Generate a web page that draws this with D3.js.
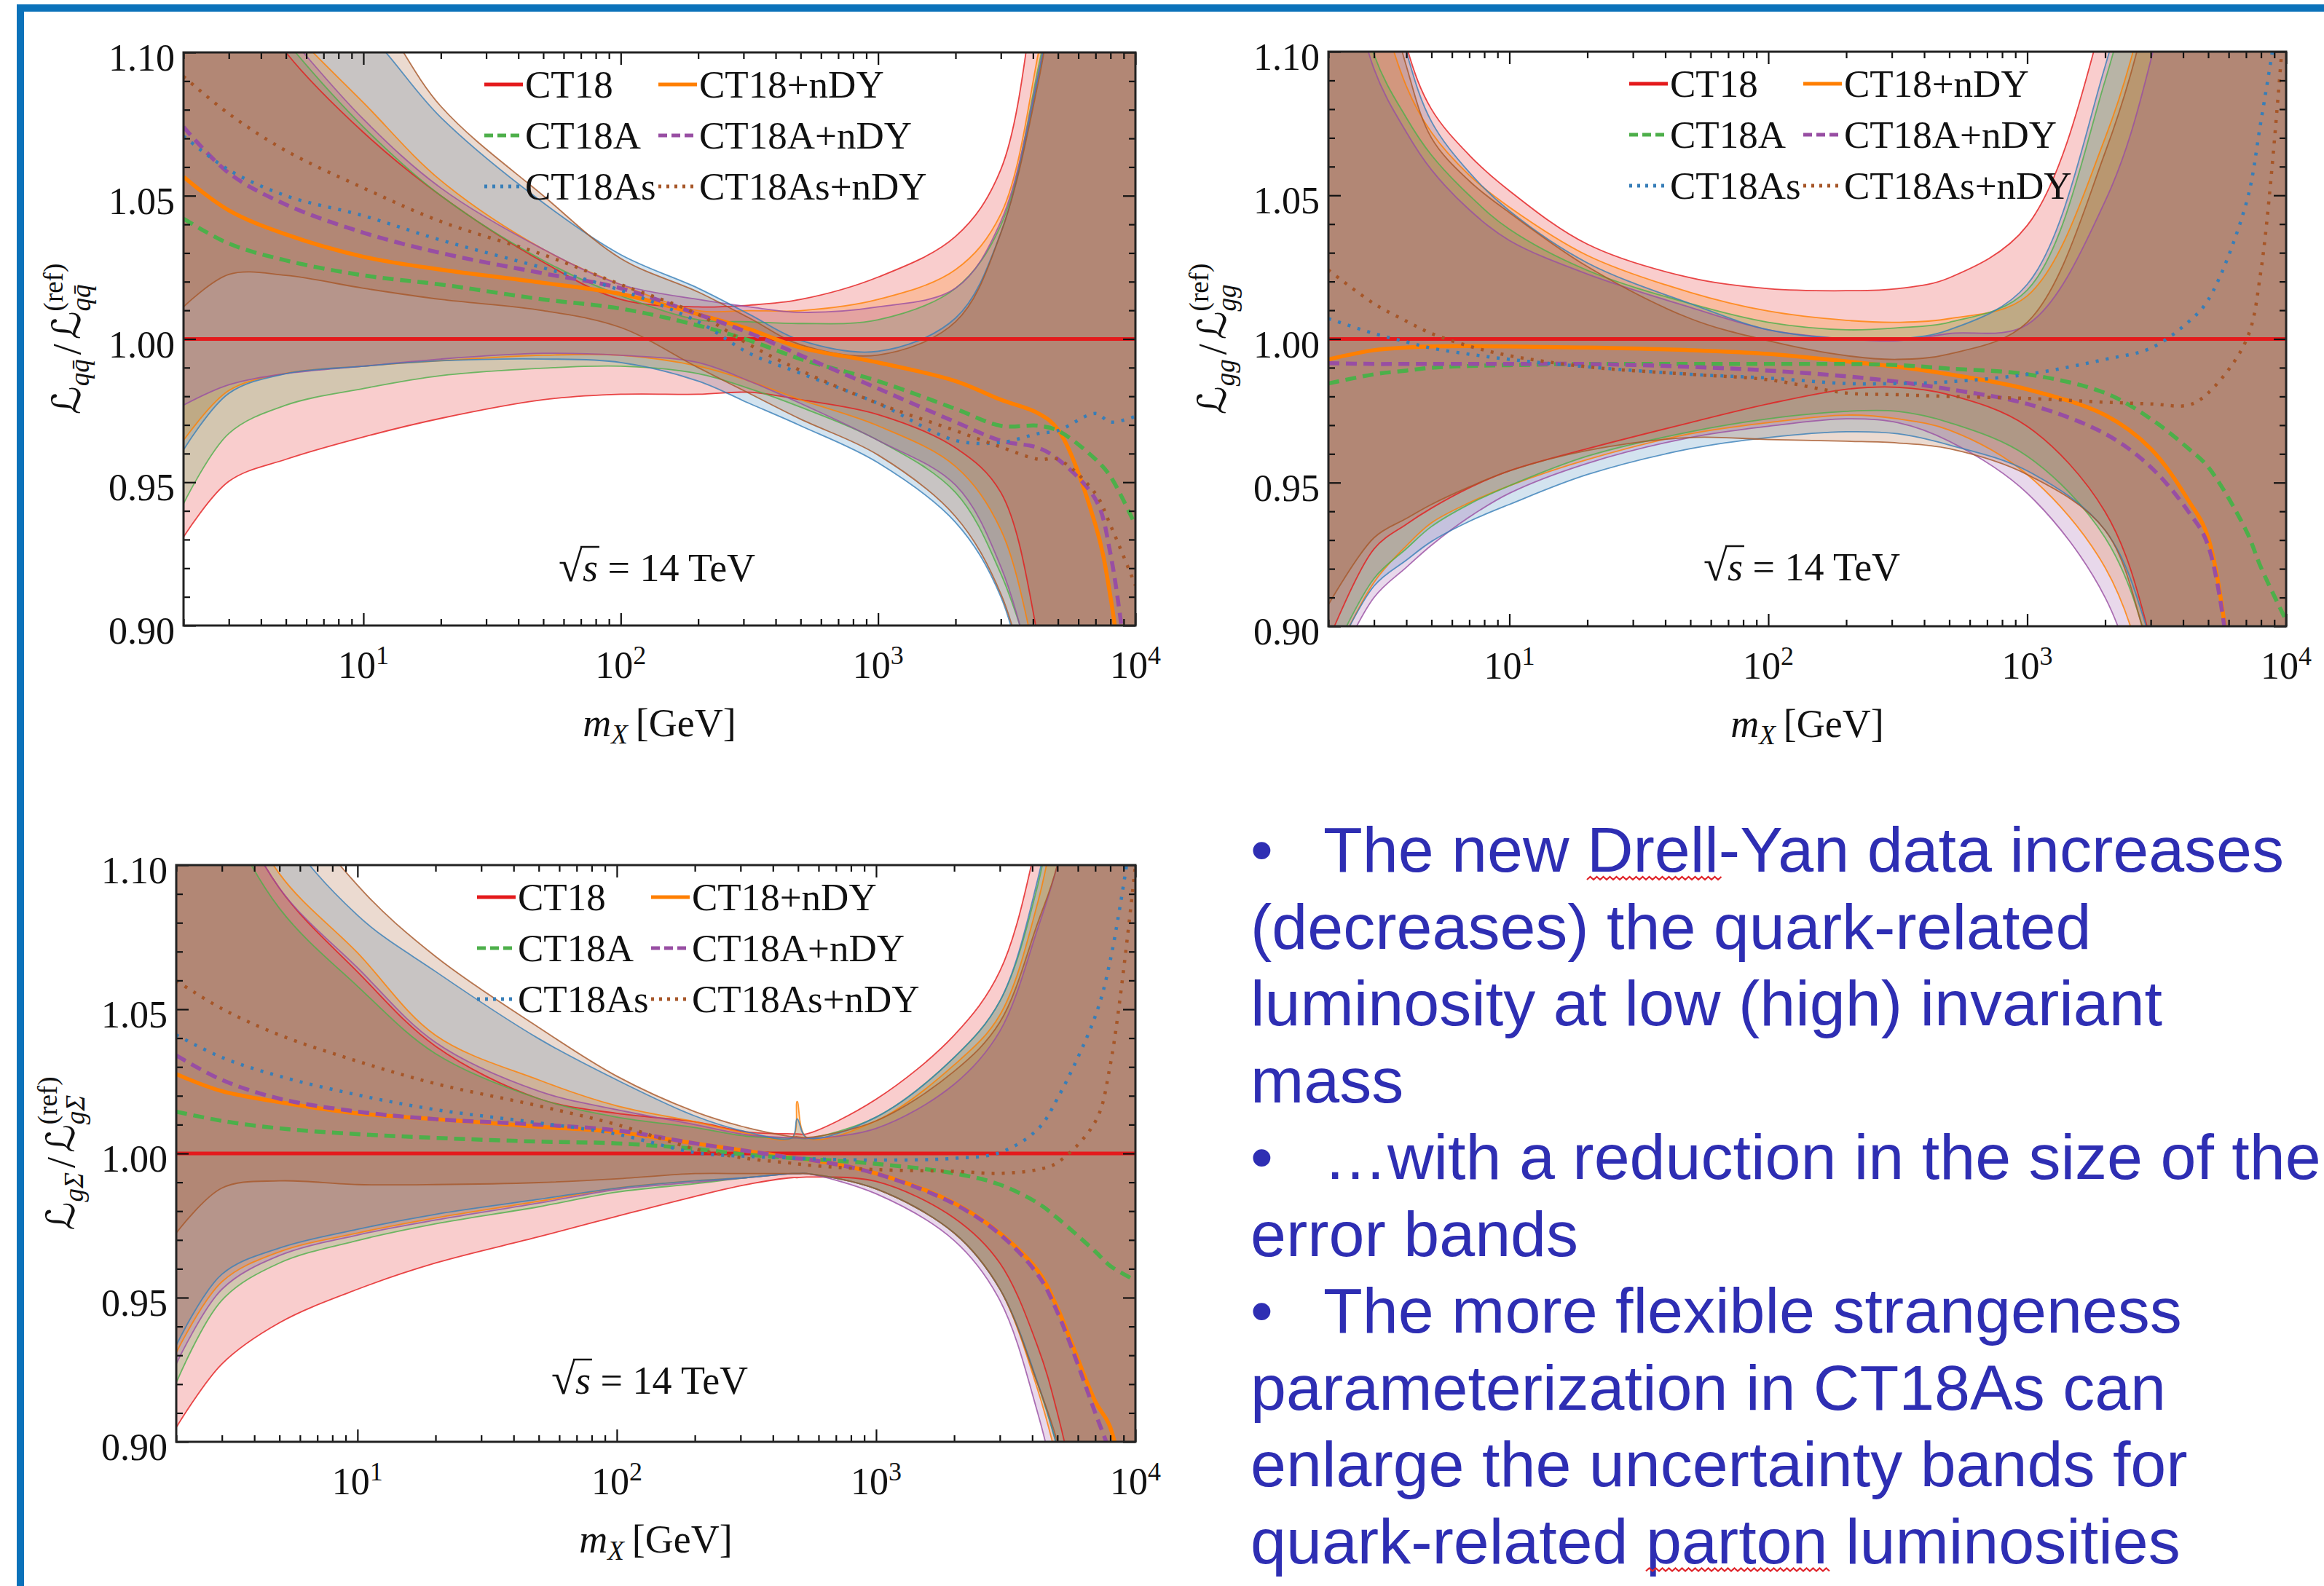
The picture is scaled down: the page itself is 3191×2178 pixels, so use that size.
<!DOCTYPE html>
<html lang="en">
<head>
<meta charset="utf-8">
<title>Parton luminosity ratios at 14 TeV</title>
<script src="https://cdn.jsdelivr.net/npm/d3@7/dist/d3.min.js"></script>
<style>
  html, body { margin: 0; padding: 0; background: #ffffff; }
  svg { display: block; }
</style>
</head>
<body>
<svg id="slide" width="3191" height="2178" viewBox="0 0 3191 2178"></svg>
<script>
// ---------------------------------------------------------------
// PDF sets shown in every panel
// ---------------------------------------------------------------
const pdfSets   = ["CT18", "CT18+nDY", "CT18A", "CT18A+nDY", "CT18As", "CT18As+nDY"];
const setColors = ["#e41a1c", "#ff7f00", "#4daf4a", "#984ea3", "#377eb8", "#a65628"];

// axis ticks
const massMajor  = [10, 100, 1000, 10000];
const massMinor  = [2, 3, 4, 5, 6, 7, 8, 9, 20, 30, 40, 50, 60, 70, 80, 90,
                    200, 300, 400, 500, 600, 700, 800, 900, 2000, 3000, 4000, 5000, 6000, 7000, 8000, 9000];
const ratioMajor = [0.90, 0.95, 1.00, 1.05, 1.10];
const ratioMinor = [0.91, 0.92, 0.93, 0.94, 0.96, 0.97, 0.98, 0.99, 1.01, 1.02, 1.03, 1.04, 1.06, 1.07, 1.08, 1.09];

// ---------------------------------------------------------------
// q-qbar luminosity ratio (rows follow pdfSets)
// ---------------------------------------------------------------
const qqMass = [2, 3, 5, 10, 20, 50, 100, 200, 316, 500, 1000, 2000, 3000, 4200, 5000, 7000, 8000, 10000];
const qqCentral = [
  [1, 1, 1, 1, 1, 1, 1, 1, 1, 1, 1, 1, 1, 1, 1, 1, 1, 1],
  [1.0566, 1.0449, 1.0365, 1.0287, 1.0242, 1.0196, 1.0157, 1.0086, 1.0034, 0.9970, 0.9918, 0.9853, 0.9788, 0.9740, 0.9684, 0.9350, 0.9100, 0.8400],
  [1.0420, 1.0333, 1.0274, 1.0222, 1.0190, 1.0138, 1.0106, 1.0047, 0.9995, 0.9930, 0.9853, 0.9756, 0.9697, 0.9697, 0.9680, 0.9580, 0.9520, 0.9350],
  [1.0740, 1.0579, 1.0469, 1.0371, 1.0300, 1.0229, 1.0177, 1.0086, 1.0021, 0.9943, 0.9827, 0.9710, 0.9645, 0.9620, 0.9580, 0.9440, 0.9250, 0.8600],
  [1.0708, 1.0590, 1.0500, 1.0430, 1.0345, 1.0248, 1.0170, 1.0060, 0.9950, 0.9880, 0.9775, 0.9646, 0.9639, 0.9670, 0.9680, 0.9740, 0.9710, 0.9730],
  [1.0916, 1.0786, 1.0657, 1.0527, 1.0410, 1.0294, 1.0190, 1.0086, 0.9980, 0.9890, 0.9775, 0.9680, 0.9623, 0.9580, 0.9580, 0.9460, 0.9350, 0.9140]
];
const qqUpper = [
  [1.1600, 1.1300, 1.1000, 1.0721, 1.0500, 1.0268, 1.0138, 1.0112, 1.0118, 1.0138, 1.0216, 1.0358, 1.0592, 1.1300, 1.1700, 1.2500, 1.3000, 1.4000],
  [1.1600, 1.1350, 1.1100, 1.0825, 1.0553, 1.0313, 1.0190, 1.0099, 1.0099, 1.0099, 1.0138, 1.0242, 1.0436, 1.1000, 1.1400, 1.2200, 1.2700, 1.3500],
  [1.1600, 1.1300, 1.1040, 1.0740, 1.0500, 1.0274, 1.0151, 1.0067, 1.0060, 1.0054, 1.0067, 1.0177, 1.0397, 1.0950, 1.1300, 1.2000, 1.2500, 1.3300],
  [1.1600, 1.1300, 1.1070, 1.0767, 1.0527, 1.0313, 1.0190, 1.0138, 1.0112, 1.0093, 1.0112, 1.0177, 1.0410, 1.0930, 1.1300, 1.2000, 1.2500, 1.3300],
  [1.2000, 1.1600, 1.1250, 1.1080, 1.0773, 1.0475, 1.0294, 1.0177, 1.0086, 0.9995, 0.9957, 1.0073, 1.0371, 1.0920, 1.1300, 1.2000, 1.2500, 1.3300],
  [1.2200, 1.1800, 1.1400, 1.1200, 1.0812, 1.0500, 1.0281, 1.0164, 1.0073, 0.9980, 0.9944, 1.0060, 1.0370, 1.0900, 1.1300, 1.2000, 1.2500, 1.3300]
];
const qqLower = [
  [0.9309, 0.9503, 0.9580, 0.9658, 0.9723, 0.9788, 0.9807, 0.9807, 0.9814, 0.9788, 0.9736, 0.9620, 0.9464, 0.8950, 0.8500, 0.7800, 0.7500, 0.7000],
  [0.9646, 0.9820, 0.9880, 0.9905, 0.9924, 0.9943, 0.9943, 0.9905, 0.9853, 0.9788, 0.9697, 0.9555, 0.9334, 0.8850, 0.8600, 0.8000, 0.7700, 0.7300],
  [0.9425, 0.9670, 0.9769, 0.9827, 0.9872, 0.9898, 0.9905, 0.9879, 0.9827, 0.9762, 0.9646, 0.9464, 0.9180, 0.8800, 0.8600, 0.8000, 0.7700, 0.7300],
  [0.9769, 0.9840, 0.9879, 0.9905, 0.9930, 0.9950, 0.9943, 0.9918, 0.9853, 0.9775, 0.9646, 0.9490, 0.9205, 0.8750, 0.8500, 0.8000, 0.7700, 0.7300],
  [0.9613, 0.9810, 0.9879, 0.9905, 0.9924, 0.9930, 0.9918, 0.9853, 0.9775, 0.9697, 0.9568, 0.9360, 0.9100, 0.8600, 0.8400, 0.7800, 0.7600, 0.7200],
  [1.0112, 1.0225, 1.0222, 1.0177, 1.0138, 1.0099, 1.0040, 0.9900, 0.9810, 0.9720, 0.9595, 0.9380, 0.9110, 0.8650, 0.8450, 0.7900, 0.7700, 0.7300]
];

// ---------------------------------------------------------------
// g-g luminosity ratio
// ---------------------------------------------------------------
const ggMass = [2, 3, 4, 5, 7, 10, 20, 50, 100, 200, 316, 500, 1000, 2000, 3000, 4200, 5000, 7000, 8000, 10000];
const ggCentral = [
  [1, 1, 1, 1, 1, 1, 1, 1, 1, 1, 1, 1, 1, 1, 1, 1, 1, 1, 1, 1],
  [0.9929, 0.9961, 0.9970, 0.9974, 0.9975, 0.9974, 0.9970, 0.9961, 0.9948, 0.9922, 0.9903, 0.9877, 0.9825, 0.9735, 0.9618, 0.9437, 0.9308, 0.8400, 0.8000, 0.7500],
  [0.9845, 0.9877, 0.9890, 0.9900, 0.9906, 0.9909, 0.9913, 0.9913, 0.9913, 0.9913, 0.9909, 0.9897, 0.9877, 0.9812, 0.9722, 0.9618, 0.9554, 0.9334, 0.9204, 0.9020],
  [0.9916, 0.9913, 0.9913, 0.9913, 0.9913, 0.9913, 0.9913, 0.9903, 0.9890, 0.9870, 0.9851, 0.9825, 0.9774, 0.9670, 0.9554, 0.9398, 0.9280, 0.8400, 0.8000, 0.7500],
  [1.0071, 1.0019, 0.9990, 0.9968, 0.9947, 0.9929, 0.9903, 0.9877, 0.9864, 0.9845, 0.9845, 0.9851, 0.9877, 0.9929, 0.9968, 1.0060, 1.0136, 1.0470, 1.0760, 1.1300],
  [1.0240, 1.0123, 1.0062, 1.0019, 0.9975, 0.9942, 0.9903, 0.9877, 0.9858, 0.9812, 0.9806, 0.9800, 0.9793, 0.9780, 0.9774, 0.9770, 0.9812, 0.9994, 1.0240, 1.1200]
];
const ggUpper = [
  [1.2800, 1.1600, 1.1020, 1.0800, 1.0640, 1.0516, 1.0330, 1.0213, 1.0175, 1.0168, 1.0175, 1.0213, 1.0395, 1.1150, 1.2000, 1.2800, 1.3200, 1.4000, 1.4500, 1.5000],
  [1.2000, 1.1250, 1.0880, 1.0719, 1.0570, 1.0459, 1.0291, 1.0162, 1.0097, 1.0065, 1.0058, 1.0071, 1.0150, 1.0700, 1.1250, 1.2000, 1.2500, 1.3500, 1.4000, 1.4500],
  [1.1700, 1.0990, 1.0770, 1.0640, 1.0500, 1.0382, 1.0239, 1.0123, 1.0058, 1.0032, 1.0039, 1.0058, 1.0170, 1.0900, 1.1550, 1.2200, 1.2700, 1.3500, 1.4000, 1.4500],
  [1.1600, 1.0940, 1.0720, 1.0589, 1.0450, 1.0343, 1.0226, 1.0110, 1.0032, 1.0000, 0.9994, 1.0019, 1.0050, 1.0480, 1.0970, 1.1700, 1.2200, 1.3000, 1.3500, 1.4000],
  [1.2400, 1.1500, 1.1000, 1.0757, 1.0580, 1.0446, 1.0265, 1.0123, 1.0032, 1.0000, 1.0000, 1.0032, 1.0190, 1.0950, 1.1600, 1.2200, 1.2700, 1.3500, 1.4000, 1.4500],
  [1.2200, 1.1400, 1.0950, 1.0700, 1.0550, 1.0440, 1.0252, 1.0071, 0.9994, 0.9942, 0.9929, 0.9948, 1.0058, 1.0650, 1.1200, 1.2000, 1.2500, 1.3300, 1.3800, 1.4300]
];
const ggLower = [
  [0.8950, 0.9269, 0.9355, 0.9411, 0.9482, 0.9541, 0.9618, 0.9709, 0.9774, 0.9825, 0.9832, 0.9806, 0.9696, 0.9398, 0.8950, 0.8200, 0.7800, 0.7000, 0.6600, 0.6000],
  [0.8850, 0.9153, 0.9280, 0.9360, 0.9430, 0.9489, 0.9580, 0.9670, 0.9709, 0.9735, 0.9722, 0.9683, 0.9528, 0.9204, 0.8750, 0.8000, 0.7700, 0.7000, 0.6700, 0.6000],
  [0.8870, 0.9166, 0.9270, 0.9347, 0.9425, 0.9489, 0.9592, 0.9677, 0.9722, 0.9748, 0.9748, 0.9709, 0.9592, 0.9308, 0.8900, 0.8200, 0.7900, 0.7200, 0.6900, 0.6200],
  [0.8800, 0.9100, 0.9205, 0.9282, 0.9380, 0.9463, 0.9567, 0.9657, 0.9696, 0.9722, 0.9709, 0.9644, 0.9463, 0.9100, 0.8600, 0.8000, 0.7700, 0.7000, 0.6700, 0.6000],
  [0.8850, 0.9140, 0.9230, 0.9295, 0.9365, 0.9424, 0.9528, 0.9618, 0.9657, 0.9677, 0.9670, 0.9631, 0.9541, 0.9334, 0.8950, 0.8400, 0.8100, 0.7400, 0.7100, 0.6500],
  [0.9075, 0.9308, 0.9375, 0.9424, 0.9485, 0.9541, 0.9612, 0.9657, 0.9650, 0.9644, 0.9638, 0.9618, 0.9528, 0.9334, 0.8900, 0.8500, 0.8200, 0.7500, 0.7200, 0.6600]
];

// ---------------------------------------------------------------
// g-Sigma luminosity ratio
// ---------------------------------------------------------------
const gsMass = [2, 3, 5, 10, 20, 50, 100, 200, 316, 475, 496, 540, 1000, 2000, 3000, 4200, 5000, 7000, 8000, 10000];
const gsCentral = [
  [1, 1, 1, 1, 1, 1, 1, 1, 1, 1, 1, 1, 1, 1, 1, 1, 1, 1, 1, 1],
  [1.0275, 1.0216, 1.0178, 1.0139, 1.0119, 1.0093, 1.0074, 1.0035, 1.0009, 0.9985, 0.9983, 0.9980, 0.9931, 0.9828, 0.9724, 0.9594, 0.9465, 0.9140, 0.9050, 0.8600],
  [1.0145, 1.0113, 1.0087, 1.0067, 1.0054, 1.0041, 1.0035, 1.0016, 0.9996, 0.9984, 0.9983, 0.9981, 0.9964, 0.9931, 0.9892, 0.9828, 0.9776, 0.9660, 0.9610, 0.9560],
  [1.0340, 1.0255, 1.0190, 1.0145, 1.0119, 1.0100, 1.0080, 1.0035, 1.0009, 0.9985, 0.9983, 0.9980, 0.9930, 0.9825, 0.9720, 0.9580, 0.9450, 0.9100, 0.8950, 0.8400],
  [1.0411, 1.0333, 1.0268, 1.0203, 1.0152, 1.0106, 1.0067, 1.0003, 0.9990, 0.9984, 0.9983, 0.9982, 0.9977, 0.9983, 1.0003, 1.0084, 1.0190, 1.0476, 1.0670, 1.1200],
  [1.0599, 1.0502, 1.0411, 1.0320, 1.0242, 1.0165, 1.0100, 1.0016, 0.9983, 0.9966, 0.9964, 0.9960, 0.9944, 0.9938, 0.9931, 0.9944, 0.9968, 1.0110, 1.0307, 1.1000]
];
const gsUpper = [
  [1.1800, 1.1300, 1.0920, 1.0630, 1.0372, 1.0190, 1.0139, 1.0110, 1.0075, 1.0068, 1.0068, 1.0068, 1.0188, 1.0410, 1.0632, 1.1100, 1.1500, 1.2500, 1.3000, 1.4000],
  [1.1800, 1.1350, 1.0970, 1.0696, 1.0410, 1.0255, 1.0165, 1.0110, 1.0070, 1.0055, 1.0180, 1.0055, 1.0113, 1.0307, 1.0480, 1.0870, 1.1200, 1.2000, 1.2500, 1.3300],
  [1.1600, 1.1200, 1.0850, 1.0580, 1.0346, 1.0190, 1.0126, 1.0090, 1.0060, 1.0054, 1.0054, 1.0052, 1.0126, 1.0333, 1.0528, 1.0930, 1.1300, 1.2000, 1.2500, 1.3300],
  [1.1700, 1.1300, 1.0920, 1.0644, 1.0385, 1.0216, 1.0152, 1.0100, 1.0065, 1.0054, 1.0054, 1.0052, 1.0087, 1.0240, 1.0424, 1.0780, 1.1000, 1.1600, 1.2000, 1.2800],
  [1.2200, 1.1700, 1.1150, 1.0826, 1.0631, 1.0398, 1.0255, 1.0130, 1.0075, 1.0055, 1.0120, 1.0055, 1.0126, 1.0333, 1.0528, 1.0950, 1.1300, 1.2000, 1.2500, 1.3300],
  [1.2500, 1.1900, 1.1300, 1.0930, 1.0683, 1.0437, 1.0268, 1.0145, 1.0090, 1.0058, 1.0058, 1.0055, 1.0113, 1.0285, 1.0455, 1.0800, 1.1000, 1.1700, 1.2200, 1.3000]
];
const gsLower = [
  [0.9050, 0.9270, 0.9413, 0.9529, 0.9620, 0.9711, 0.9782, 0.9851, 0.9892, 0.9916, 0.9916, 0.9918, 0.9903, 0.9776, 0.9620, 0.9330, 0.9100, 0.8500, 0.8200, 0.7700],
  [0.9309, 0.9555, 0.9659, 0.9724, 0.9776, 0.9834, 0.9880, 0.9905, 0.9916, 0.9930, 0.9930, 0.9930, 0.9877, 0.9724, 0.9530, 0.9180, 0.8930, 0.8300, 0.7900, 0.7400],
  [0.9205, 0.9491, 0.9620, 0.9698, 0.9756, 0.9815, 0.9866, 0.9895, 0.9916, 0.9930, 0.9930, 0.9930, 0.9877, 0.9724, 0.9530, 0.9200, 0.8980, 0.8400, 0.8000, 0.7500],
  [0.9270, 0.9529, 0.9646, 0.9717, 0.9769, 0.9828, 0.9875, 0.9900, 0.9916, 0.9930, 0.9930, 0.9930, 0.9860, 0.9698, 0.9491, 0.9100, 0.8820, 0.8200, 0.7800, 0.7300],
  [0.9335, 0.9581, 0.9672, 0.9737, 0.9789, 0.9841, 0.9880, 0.9905, 0.9916, 0.9930, 0.9930, 0.9930, 0.9877, 0.9724, 0.9530, 0.9205, 0.8980, 0.8400, 0.8000, 0.7500],
  [0.9724, 0.9880, 0.9905, 0.9892, 0.9892, 0.9899, 0.9912, 0.9930, 0.9930, 0.9930, 0.9930, 0.9930, 0.9877, 0.9724, 0.9530, 0.9200, 0.9000, 0.8400, 0.8000, 0.7500]
];

// ---------------------------------------------------------------
// Slide notes
// ---------------------------------------------------------------
const noteLines = [
  { bullet: true,  text: "The new Drell-Yan data increases" },
  { bullet: false, text: "(decreases) the quark-related" },
  { bullet: false, text: "luminosity at low (high) invariant" },
  { bullet: false, text: "mass" },
  { bullet: true,  text: "\u2026with a reduction in the size of the" },
  { bullet: false, text: "error bands" },
  { bullet: true,  text: "The more flexible strangeness" },
  { bullet: false, text: "parameterization in CT18As can" },
  { bullet: false, text: "enlarge the uncertainty bands for" },
  { bullet: false, text: "quark-related parton luminosities" }
];
const spellFlags = [ { line: 0, word: "Drell" }, { line: 9, word: "parton" } ];

// ---------------------------------------------------------------
// Styling and layout
// ---------------------------------------------------------------
const serif = "'Liberation Serif', 'Times New Roman', serif";
const sans  = "'Liberation Sans', Arial, Helvetica, sans-serif";
const scriptFont = "'DejaVu Serif', 'DejaVu Sans', serif";
const centralWidth = [5, 5.5, 5.5, 5.5, 4.5, 4.5];
const centralDash  = [null, null, "15,9", "15,9", "4,10", "4,10"];
const legendDash   = [null, null, "12,6", "12,6", "4,7", "4,7"];
const bandStack    = [4, 0, 1, 2, 3, 5];   // order in which the translucent bands are laid down
const bandOpacity  = 0.22;
const smooth = d3.curveCatmullRom.alpha(0.5);

const panels = [
  { id: "qq", mass: qqMass, central: qqCentral, upper: qqUpper, lower: qqLower,
    sub: "q" + "q\u0304", box: { x0: 252, x1: 1559, y0: 72, y1: 859 }, labelX: 92 },
  { id: "gg", mass: ggMass, central: ggCentral, upper: ggUpper, lower: ggLower,
    sub: "gg", box: { x0: 1824, x1: 3139, y0: 71, y1: 860 }, labelX: 1665 },
  { id: "gs", mass: gsMass, central: gsCentral, upper: gsUpper, lower: gsLower,
    sub: "g\u03A3", box: { x0: 242, x1: 1559, y0: 1188, y1: 1980 }, labelX: 84 }
];

const svg = d3.select("#slide");
const defs = svg.append("defs");
svg.append("rect").attr("width", 3191).attr("height", 2178).attr("fill", "#ffffff");

// slide accent bars
svg.append("rect").attr("x", 23).attr("y", 6).attr("width", 3168).attr("height", 10).attr("fill", "#0b72ba");
svg.append("rect").attr("x", 23).attr("y", 6).attr("width", 10).attr("height", 2172).attr("fill", "#0b72ba");

// lay out a run of math pieces horizontally, then centre (and optionally rotate) it
function mathLabel(parent, pieces, cx, cy, angle) {
  const outer = parent.append("g");
  const inner = outer.append("g");
  let pos = 0, lastStart = 0;
  pieces.forEach(pc => {
    const start = pc.stack ? lastStart : pos;
    const t = inner.append("text")
      .attr("x", start).attr("y", pc.dy || 0)
      .attr("font-family", pc.font || serif)
      .attr("font-size", pc.size)
      .attr("font-style", pc.italic ? "italic" : "normal")
      .attr("fill", "#111")
      .text(pc.t);
    const w = t.node().getComputedTextLength();
    if (pc.stack) {
      pos = Math.max(pos, start + w + (pc.gap || 0));
    } else {
      lastStart = start;
      pos = start + w + (pc.gap || 0);
    }
  });
  const bb = inner.node().getBBox();
  inner.attr("transform", `translate(${-bb.x - bb.width / 2},${-bb.y - bb.height / 2})`);
  outer.attr("transform", `translate(${cx},${cy}) rotate(${angle || 0})`);
}

function drawPanel(p) {
  const b = p.box;
  const x = d3.scaleLog().domain([2, 10000]).range([b.x0, b.x1]);
  const y = d3.scaleLinear().domain([0.9, 1.1]).range([b.y1, b.y0]);
  const g = svg.append("g").attr("class", "panel-" + p.id);

  defs.append("clipPath").attr("id", "clip-" + p.id)
    .append("rect").attr("x", b.x0).attr("y", b.y0)
    .attr("width", b.x1 - b.x0).attr("height", b.y1 - b.y0);
  const plot = g.append("g").attr("clip-path", `url(#clip-${p.id})`);

  const band = d3.area()
    .x(d => x(d.m)).y0(d => y(d.lo)).y1(d => y(d.hi))
    .curve(smooth);
  const curve = d3.line()
    .x(d => x(d.m)).y(d => y(d.v))
    .curve(smooth);

  // uncertainty bands
  bandStack.forEach(k => {
    const rows = p.mass.map((m, i) => ({ m, lo: p.lower[k][i], hi: p.upper[k][i] }));
    plot.append("path").datum(rows)
      .attr("d", band)
      .attr("fill", setColors[k]).attr("fill-opacity", bandOpacity);
  });
  // band edges
  pdfSets.forEach((name, k) => {
    [p.upper[k], p.lower[k]].forEach(vals => {
      plot.append("path").datum(p.mass.map((m, i) => ({ m, v: vals[i] })))
        .attr("d", curve).attr("fill", "none")
        .attr("stroke", setColors[k]).attr("stroke-width", 1.8).attr("stroke-opacity", 0.8);
    });
  });
  // central values
  pdfSets.forEach((name, k) => {
    plot.append("path").datum(p.mass.map((m, i) => ({ m, v: p.central[k][i] })))
      .attr("d", curve).attr("fill", "none")
      .attr("stroke", setColors[k]).attr("stroke-width", centralWidth[k])
      .attr("stroke-dasharray", centralDash[k]);
  });

  // ticks on all four sides, pointing inwards
  const tickStyle = sel => {
    sel.select(".domain").remove();
    sel.selectAll(".tick text").remove();
    sel.selectAll(".tick line").attr("stroke", "#111").attr("stroke-width", 2.2);
  };
  g.append("g").attr("transform", `translate(0,${b.y1})`).call(d3.axisBottom(x).tickValues(massMajor).tickSize(-17)).call(tickStyle);
  g.append("g").attr("transform", `translate(0,${b.y1})`).call(d3.axisBottom(x).tickValues(massMinor).tickSize(-9)).call(tickStyle);
  g.append("g").attr("transform", `translate(0,${b.y0})`).call(d3.axisTop(x).tickValues(massMajor).tickSize(-17)).call(tickStyle);
  g.append("g").attr("transform", `translate(0,${b.y0})`).call(d3.axisTop(x).tickValues(massMinor).tickSize(-9)).call(tickStyle);
  g.append("g").attr("transform", `translate(${b.x0},0)`).call(d3.axisLeft(y).tickValues(ratioMajor).tickSize(-17)).call(tickStyle);
  g.append("g").attr("transform", `translate(${b.x0},0)`).call(d3.axisLeft(y).tickValues(ratioMinor).tickSize(-9)).call(tickStyle);
  g.append("g").attr("transform", `translate(${b.x1},0)`).call(d3.axisRight(y).tickValues(ratioMajor).tickSize(-17)).call(tickStyle);
  g.append("g").attr("transform", `translate(${b.x1},0)`).call(d3.axisRight(y).tickValues(ratioMinor).tickSize(-9)).call(tickStyle);

  g.append("rect")
    .attr("x", b.x0).attr("y", b.y0).attr("width", b.x1 - b.x0).attr("height", b.y1 - b.y0)
    .attr("fill", "none").attr("stroke", "#222").attr("stroke-width", 3);

  // tick labels
  g.selectAll("text.ylab").data(ratioMajor).join("text")
    .attr("class", "ylab")
    .attr("x", b.x0 - 12).attr("y", d => y(d) + 25)
    .attr("text-anchor", "end")
    .attr("font-family", serif).attr("font-size", 52).attr("fill", "#111")
    .text(d3.format(".2f"));

  massMajor.forEach(m => {
    const t = g.append("text")
      .attr("x", x(m)).attr("y", b.y1 + 72)
      .attr("text-anchor", "middle")
      .attr("font-family", serif).attr("font-size", 52).attr("fill", "#111");
    t.append("tspan").text("10");
    t.append("tspan").attr("dy", -19).attr("font-size", 36).text(Math.round(Math.log10(m)));
  });

  // x title: m_X [GeV]
  const xt = g.append("text")
    .attr("x", (b.x0 + b.x1) / 2).attr("y", b.y1 + 152)
    .attr("text-anchor", "middle")
    .attr("font-family", serif).attr("font-size", 54).attr("fill", "#111");
  xt.append("tspan").attr("font-style", "italic").text("m");
  xt.append("tspan").attr("font-style", "italic").attr("font-size", 37).attr("dy", 10).text("X");
  xt.append("tspan").attr("dy", -10).text("\u2009[GeV]");

  // y title: L_ab / L_ab^(ref)
  mathLabel(g, [
    { t: "\u2112", size: 54, font: scriptFont },
    { t: p.sub, size: 37, italic: true, dy: 12, gap: 6 },
    { t: "/", size: 54, gap: 6 },
    { t: "\u2112", size: 54, font: scriptFont },
    { t: "(ref)", size: 37, dy: -24 },
    { t: p.sub, size: 37, italic: true, dy: 14, stack: true }
  ], p.labelX, (b.y0 + b.y1) / 2, -90);

  // sqrt(s) = 14 TeV
  const sx = b.x0 + 515, sy = b.y0 + 726;
  const st = g.append("text")
    .attr("x", sx).attr("y", sy)
    .attr("font-family", serif).attr("font-size", 54).attr("fill", "#111");
  st.append("tspan").attr("font-size", 60).text("\u221A");
  st.append("tspan").attr("font-style", "italic").text("s");
  st.append("tspan").text(" = 14 TeV");
  const node = st.node();
  const rootEnd = node.getEndPositionOfChar(0).x;
  const sEnd = node.getEndPositionOfChar(1).x;
  g.append("line")
    .attr("x1", rootEnd - 3).attr("x2", sEnd + 2)
    .attr("y1", sy - 47).attr("y2", sy - 47)
    .attr("stroke", "#111").attr("stroke-width", 2.5);

  // legend
  pdfSets.forEach((name, k) => {
    const col = k % 2, row = Math.floor(k / 2);
    const lx = b.x0 + 413 + col * 239;
    const ly = b.y0 + 62 + row * 70;
    g.append("line")
      .attr("x1", lx).attr("x2", lx + 53).attr("y1", ly - 18).attr("y2", ly - 18)
      .attr("stroke", setColors[k]).attr("stroke-width", 5)
      .attr("stroke-dasharray", legendDash[k]);
    g.append("text")
      .attr("x", lx + 56).attr("y", ly)
      .attr("font-family", serif).attr("font-size", 53).attr("fill", "#111")
      .text(name);
  });
}

panels.forEach(drawPanel);

// ---------------------------------------------------------------
// Bullet notes
// ---------------------------------------------------------------
const notes = svg.append("g").attr("font-family", sans).attr("font-size", 88).attr("fill", "#2e2eb3");
noteLines.forEach((ln, i) => {
  const yy = 1197 + i * 105.5;
  if (ln.bullet) {
    notes.append("text").attr("x", 1717).attr("y", yy).text("\u2022");
  }
  const t = notes.append("text")
    .attr("class", "note-" + i)
    .attr("x", ln.bullet ? 1817 : 1717).attr("y", yy)
    .text(ln.text);
  spellFlags.filter(f => f.line === i).forEach(f => {
    const idx = ln.text.indexOf(f.word);
    const n = t.node();
    const xa = n.getStartPositionOfChar(idx).x;
    const xb = n.getEndPositionOfChar(idx + f.word.length - 1).x;
    let d = `M${xa},${yy + 11}`;
    let up = true;
    for (let xx = xa + 4.5; xx <= xb + 4; xx += 4.5) {
      d += `L${xx.toFixed(1)},${(yy + (up ? 7 : 11)).toFixed(1)}`;
      up = !up;
    }
    notes.append("path").attr("d", d).attr("fill", "none")
      .attr("stroke", "#e0252b").attr("stroke-width", 2.2);
  });
});
</script>
</body>
</html>
